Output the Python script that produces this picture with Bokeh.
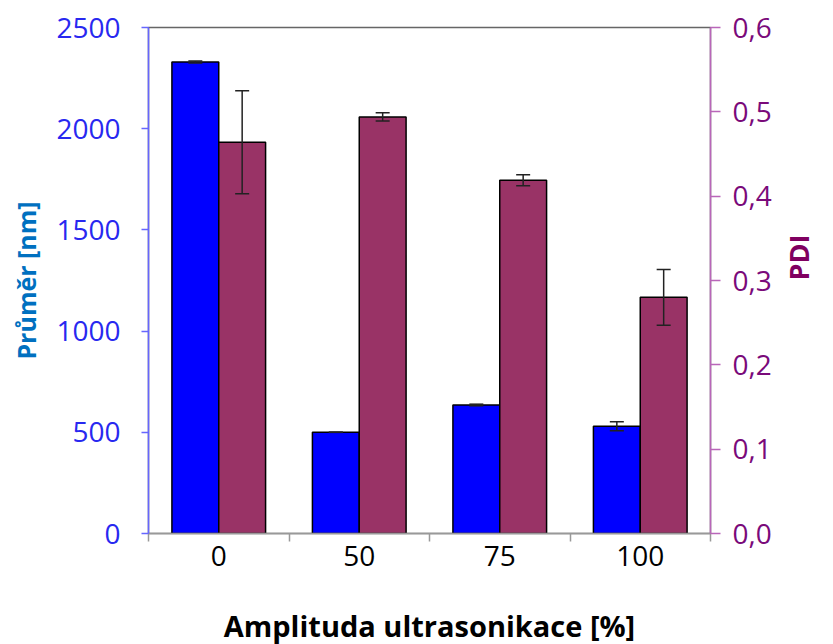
import math
import numpy as np
from bokeh.plotting import figure
from bokeh.models import (ColumnDataSource, Range1d, LinearAxis, FixedTicker,
                          Whisker, CustomJSTickFormatter, TeeHead)
from bokeh.embed import file_html
from bokeh.resources import INLINE

categories = ["0", "50", "75", "100"]
diameter = [2330, 500, 635, 530]
diameter_err = [5, 0, 4, 22]
pdi = [0.464, 0.494, 0.419, 0.280]
pdi_err = [0.061, 0.005, 0.0065, 0.033]

FONT = "Open Sans"
BLUE = "#0000FF"
PURPLE = "#993366"

idx = np.arange(len(categories))
bw = 1.0 / 3.0
src = ColumnDataSource(dict(
    xb=idx + 0.5 - bw / 2, xp=idx + 0.5 + bw / 2,
    d=diameter, d_lo=np.array(diameter) - np.array(diameter_err),
    d_hi=np.array(diameter) + np.array(diameter_err),
    p=pdi, p_lo=np.array(pdi) - np.array(pdi_err),
    p_hi=np.array(pdi) + np.array(pdi_err),
))

p = figure(output_backend="svg", toolbar_location=None,
           x_range=Range1d(0, len(categories)), y_range=Range1d(0, 2500),
           frame_width=562, frame_height=506,
           min_border_left=148, min_border_top=27, min_border_right=115,
           min_border_bottom=110)
p.extra_y_ranges = {"pdi": Range1d(0, 0.6)}
p.grid.visible = False
p.outline_line_color = "#666666"
p.outline_line_width = 1.5
p.background_fill_color = "white"
p.border_fill_color = "white"

p.vbar(x="xb", top="d", width=bw, source=src, fill_color=BLUE,
       line_color="black", line_width=1.5)
p.vbar(x="xp", top="p", width=bw, source=src, fill_color=PURPLE,
       line_color="black", line_width=1.5, y_range_name="pdi")

for base, lo, hi, rn in [("xb", "d_lo", "d_hi", "default"),
                         ("xp", "p_lo", "p_hi", "pdi")]:
    w = Whisker(base=base, lower=lo, upper=hi, source=src, y_range_name=rn,
                level="overlay",
                line_color="#222222", line_width=1.5,
                upper_head=TeeHead(size=14, line_color="#222222", line_width=1.5),
                lower_head=TeeHead(size=14, line_color="#222222", line_width=1.5))
    p.add_layout(w)

# x axis
xa = p.xaxis[0]
xa.ticker = FixedTicker(ticks=list(idx + 0.5), minor_ticks=list(range(len(categories) + 1)))
xa.major_label_overrides = {float(i + 0.5): c for i, c in enumerate(categories)}
xa.major_tick_out = 0
xa.major_tick_in = 0
xa.minor_tick_out = 8
xa.minor_tick_in = 0
xa.minor_tick_line_color = "#999999"
xa.minor_tick_line_width = 1.5
xa.axis_line_color = "#999999"
xa.axis_line_width = 1.5
xa.major_label_text_font = FONT
xa.major_label_text_font_size = "28px"
xa.major_label_text_color = "black"
xa.major_label_standoff = 4
xa.axis_label = "Amplituda ultrasonikace [%]"
xa.axis_label_text_font = FONT
xa.axis_label_text_font_size = "29px"
xa.axis_label_text_font_style = "bold"
xa.axis_label_text_color = "black"
xa.axis_label_standoff = 37

# left axis
ya = p.yaxis[0]
ya.ticker = FixedTicker(ticks=[0, 500, 1000, 1500, 2000, 2500])
ya.major_tick_out = 7
ya.major_tick_in = 0
ya.minor_tick_out = 0
ya.minor_tick_in = 0
ya.axis_line_color = "#6666FF"
ya.major_tick_line_color = "#6666FF"
ya.axis_line_width = 1.5
ya.major_tick_line_width = 1.5
ya.major_label_text_font = FONT
ya.major_label_text_font_size = "28px"
ya.major_label_text_color = "#2828F0"
ya.major_label_standoff = 21
ya.axis_label = "Průměr [nm]"
ya.axis_label_text_font = FONT
ya.axis_label_text_font_size = "25px"
ya.axis_label_text_font_style = "bold"
ya.axis_label_text_color = "#0070C0"
ya.axis_label_standoff = 10

# right axis
ra = LinearAxis(y_range_name="pdi",
                ticker=FixedTicker(ticks=[0, 0.1, 0.2, 0.3, 0.4, 0.5, 0.6]),
                formatter=CustomJSTickFormatter(code="return tick.toFixed(1).replace('.', ',');"))
ra.major_tick_out = 10
ra.major_tick_in = 0
ra.minor_tick_out = 0
ra.minor_tick_in = 0
ra.axis_line_color = "#B966B9"
ra.major_tick_line_color = "#B966B9"
ra.axis_line_width = 1.5
ra.major_tick_line_width = 1.5
ra.major_label_text_font = FONT
ra.major_label_text_font_size = "28px"
ra.major_label_text_color = "#7A0A7A"
ra.major_label_standoff = 12
ra.axis_label = "PDI"
ra.axis_label_orientation = math.pi / 2
ra.axis_label_text_font = FONT
ra.axis_label_text_font_size = "27px"
ra.axis_label_text_font_style = "bold"
ra.axis_label_text_color = "#800060"
ra.axis_label_standoff = 24
p.add_layout(ra, "right")

open("out.html", "w").write(file_html(p, INLINE))
